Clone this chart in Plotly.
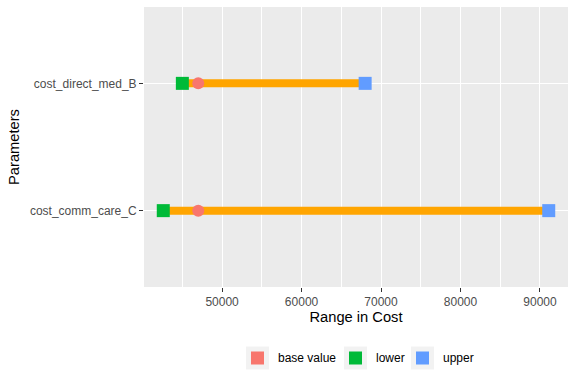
import plotly.graph_objects as go

parameters = ["cost_comm_care_C", "cost_direct_med_B"]
base_values = [47000, 47000]
lower_values = [42600, 45000]
upper_values = [91100, 68000]

W, H = 576, 384
ML, MR, MT, MB = 144, 8, 7, 97
PW, PH = W - ML - MR, H - MT - MB

def px(x):
    return (x - ML) / PW

def py(y):
    return (H - MB - y) / PH

fig = go.Figure()

for p, lo, up in zip(parameters, lower_values, upper_values):
    fig.add_trace(go.Scatter(x=[lo, up], y=[p, p], mode="lines",
                             line=dict(color="#FFA500", width=8),
                             showlegend=False, hoverinfo="skip"))

fig.add_trace(go.Scatter(x=lower_values, y=parameters, mode="markers", name="lower",
                         marker=dict(symbol="square", size=13, color="#00BA38"),
                         showlegend=False))
fig.add_trace(go.Scatter(x=upper_values, y=parameters, mode="markers", name="upper",
                         marker=dict(symbol="square", size=13, color="#619CFF"),
                         showlegend=False))
fig.add_trace(go.Scatter(x=base_values, y=parameters, mode="markers", name="base value",
                         marker=dict(symbol="circle", size=12, color="#F8766D"),
                         showlegend=False))

# manual ggplot-like legend
legend_items = [("base value", "#F8766D", 246), ("lower", "#00BA38", 344), ("upper", "#619CFF", 411)]
shapes = []
annotations = []
cy = 358
for label, col, x0 in legend_items:
    shapes.append(dict(type="rect", xref="paper", yref="paper",
                       x0=px(x0), x1=px(x0 + 23), y0=py(cy + 11.5), y1=py(cy - 11.5),
                       fillcolor="#F2F2F2", line=dict(width=0), layer="above"))
    shapes.append(dict(type="rect", xref="paper", yref="paper",
                       x0=px(x0 + 5), x1=px(x0 + 18), y0=py(cy + 6.5), y1=py(cy - 6.5),
                       fillcolor=col, line=dict(width=0), layer="above"))
    annotations.append(dict(text=label, xref="paper", yref="paper", x=px(x0 + 30), y=py(cy),
                            xanchor="left", yanchor="middle", showarrow=False,
                            font=dict(size=12, color="#000000")))

fig.update_layout(
    width=W, height=H,
    margin=dict(l=ML, r=MR, t=MT, b=MB),
    paper_bgcolor="white", plot_bgcolor="#EBEBEB",
    font=dict(family="Liberation Sans, Arial, sans-serif", size=12, color="#4D4D4D"),
    showlegend=False,
    shapes=shapes, annotations=annotations,
)

fig.update_xaxes(
    range=[40175, 93525],
    tickvals=[50000, 60000, 70000, 80000, 90000],
    ticktext=["50000", "60000", "70000", "80000", "90000"],
    showgrid=True, gridcolor="white", gridwidth=1.1,
    zeroline=False, showline=False,
    ticks="outside", ticklen=4, tickcolor="#333333", tickwidth=1.1,
    tickfont=dict(size=12, color="#4D4D4D"),
    minor=dict(tickvals=[45000, 55000, 65000, 75000, 85000], showgrid=True,
               gridcolor="white", gridwidth=0.55, ticks=""),
    title=dict(text="Range in Cost", font=dict(size=14.7, color="#000000"), standoff=3),
)
fig.update_yaxes(
    type="category", categoryorder="array", categoryarray=parameters,
    range=[-0.6, 1.6],
    showgrid=True, gridcolor="white", gridwidth=1.1,
    zeroline=False, showline=False,
    ticks="outside", ticklen=4, tickcolor="#333333", tickwidth=1.1,
    tickfont=dict(size=12, color="#4D4D4D"),
    title=dict(text="Parameters", font=dict(size=14.7, color="#000000"), standoff=6),
)

fig.write_html("out.html")
